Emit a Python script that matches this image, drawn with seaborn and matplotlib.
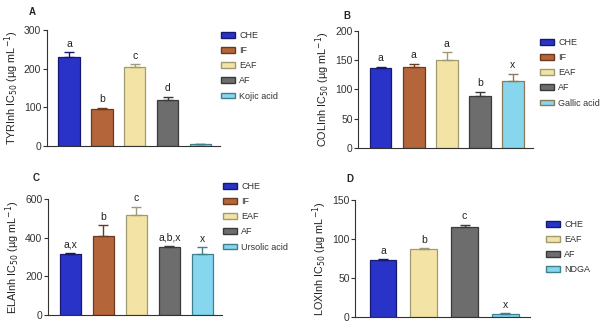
import numpy as np
import pandas as pd
import matplotlib
matplotlib.use('Agg')
import matplotlib.pyplot as plt
import seaborn as sns

sns.set_style('ticks')
plt.rcParams['font.family'] = ['Liberation Sans', 'DejaVu Sans']

# Colours per sample
colors = {'CHE': '#2a33c8', 'IF': '#b5653a', 'EAF': '#f3e4a5', 'AF': '#6d6d6d',
          'Kojic acid': '#86d7ee', 'Gallic acid': '#86d7ee',
          'Ursolic acid': '#86d7ee', 'NDGA': '#86d7ee'}
edges = {'CHE': '#151a70', 'IF': '#6b3a1f', 'EAF': '#a09a72', 'AF': '#3a3a3a',
         'Kojic acid': '#3f7f8f', 'Gallic acid': '#8a7a5a',
         'Ursolic acid': '#3f7f8f', 'NDGA': '#3f7f8f'}

# A - tyrosinase
tyr_cats = ['CHE', 'IF', 'EAF', 'AF', 'Kojic acid']
tyr_vals = [230, 97, 205, 119, 5]
tyr_err = [12, 2, 7, 9, 1]
tyr_lbl = ['a', 'b', 'c', 'd', '']

# B - collagenase
col_cats = ['CHE', 'IF', 'EAF', 'AF', 'Gallic acid']
col_vals = [136, 138, 150, 89, 114]
col_err = [3, 6, 14, 7, 13]
col_lbl = ['a', 'a', 'a', 'b', 'x']

# C - elastase
ela_cats = ['CHE', 'IF', 'EAF', 'AF', 'Ursolic acid']
ela_vals = [316, 410, 517, 352, 313]
ela_err = [3, 55, 42, 5, 38]
ela_lbl = ['a,x', 'b', 'c', 'a,b,x', 'x']

# D - lipoxygenase
lox_cats = ['CHE', 'EAF', 'AF', 'NDGA']
lox_vals = [73, 87, 115, 4]
lox_err = [1, 1, 3, 0.5]
lox_lbl = ['a', 'b', 'c', 'x']

W, H = 600, 323
fig = plt.figure(figsize=(6, 3.23), dpi=100)


def panel(rect, cats, vals, errs, lbls, ymax, ystep, ylabel, letter, letter_pos, leg_px):
    ax = fig.add_axes(rect)
    df = pd.DataFrame({'sample': cats, 'value': vals})
    sns.barplot(data=df, x='sample', y='value', hue='sample',
                palette=[colors[c] for c in cats], errorbar=None, saturation=1,
                width=0.65, ax=ax, legend=True)
    for bar, c in zip(ax.patches, cats):
        bar.set_edgecolor(edges[c])
        bar.set_linewidth(0.9)
    for i, (v, e, c) in enumerate(zip(vals, errs, cats)):
        ax.errorbar(i, v, yerr=[[0], [e]], fmt='none', ecolor=edges[c],
                    elinewidth=1, capsize=3.5, capthick=1)
    for i, (v, e, t) in enumerate(zip(vals, errs, lbls)):
        if t:
            ax.text(i, v + e + ymax * 0.03, t, ha='center', va='bottom',
                    fontsize=7.5, color='#222222')
    n = len(cats)
    ax.set_xlim(-0.68, n - 0.4)
    ax.set_ylim(0, ymax)
    ax.set_yticks(np.arange(0, ymax + 1, ystep))
    ax.set_xticks([])
    ax.set_xlabel('')
    ax.set_ylabel(ylabel, fontsize=7.8, color='#222222', labelpad=2)
    ax.tick_params(axis='y', labelsize=7.5, length=3, width=0.8, pad=1, colors='#333333')
    sns.despine(ax=ax)
    for s in ['left', 'bottom']:
        ax.spines[s].set_linewidth(0.8)
        ax.spines[s].set_color('#333333')
    handles, labels = ax.get_legend_handles_labels()
    for h, c in zip(handles, cats):
        h.set_edgecolor(edges[c])
    ax.legend(handles, labels, loc='upper left',
              bbox_to_anchor=(leg_px[0] / W, 1 - leg_px[1] / H),
              bbox_transform=fig.transFigure, borderaxespad=0, borderpad=0,
              frameon=False, fontsize=6.5, handlelength=1.55, handleheight=0.6,
              labelspacing=0.68, handletextpad=0.45,
              labelcolor='#333333')
    fig.text(letter_pos[0], letter_pos[1], letter, fontsize=7, fontweight='bold')
    return ax


panel([0.078, 0.548, 0.289, 0.359], tyr_cats, tyr_vals, tyr_err, tyr_lbl, 300, 100,
      'TYRInh IC$_{50}$ (µg mL$^{-1}$)', 'A', (0.048, 0.955), (221, 31))
panel([0.597, 0.542, 0.291, 0.362], col_cats, col_vals, col_err, col_lbl, 200, 50,
      'COLInh IC$_{50}$ (µg mL$^{-1}$)', 'B', (0.572, 0.94), (540, 38))
panel([0.080, 0.025, 0.290, 0.359], ela_cats, ela_vals, ela_err, ela_lbl, 600, 200,
      'ELAInh IC$_{50}$ (µg mL$^{-1}$)', 'C', (0.055, 0.44), (223, 182))
panel([0.592, 0.019, 0.291, 0.362], lox_cats, lox_vals, lox_err, lox_lbl, 150, 50,
      'LOXInh IC$_{50}$ (µg mL$^{-1}$)', 'D', (0.578, 0.435), (546, 220))

fig.savefig('out.png', dpi=100)
